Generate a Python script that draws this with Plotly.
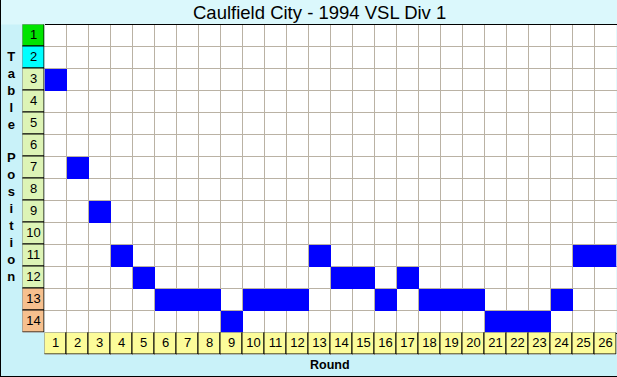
import plotly.graph_objects as go

# ---- data ----
title_text = "Caulfield City - 1994 VSL Div 1"
rounds = list(range(1, 27))
table_positions = list(range(1, 15))
position_by_round = [3, 7, 9, 11, 12, 13, 13, 13, 14, 13, 13, 13, 11,
                     12, 12, 13, 12, 13, 13, 13, 14, 14, 14, 13, 11, 11]
x_label = "Round"
y_label = "Table Position"

# ---- styles ----
W, H = 617, 377
BG = "#c9f2f9"
TITLE_BG = "#dbf8fc"
GRID = "#bab2a4"
BLUE = "#0000ff"
YELLOW = "#fcfc9a"
FONT = "Liberation Sans, Arial"
pos_colors = (["#00e400", "#00ffff"] + ["#ddf4b6"] * 10 + ["#f6c08e"] * 2)

def px_x(p):
    return p / W

def px_y(p):
    return (H - p) / H

grid_left, label_left, grid_right = 44.5, 22.5, 616.5
grid_top, grid_bottom, round_bottom = 24.5, 332.5, 354.5

fig = go.Figure()

# blue cells: the position held after each round
z = [[1 if position_by_round[c] == r else None for c in range(len(rounds))]
     for r in table_positions]
fig.add_trace(go.Heatmap(
    x=rounds, y=table_positions, z=z,
    colorscale=[[0, BLUE], [1, BLUE]], showscale=False,
    hoverinfo="skip", xaxis="x", yaxis="y"))

# left column: table position labels
fig.add_trace(go.Bar(
    x=[0] * len(table_positions), y=[1] * len(table_positions),
    base=[p - 0.5 for p in table_positions], width=1,
    marker=dict(color=pos_colors, line=dict(color="black", width=1)),
    hoverinfo="skip", xaxis="x2", yaxis="y", showlegend=False))
fig.add_trace(go.Scatter(
    x=[0] * len(table_positions), y=table_positions, mode="text",
    text=[str(p) for p in table_positions],
    textfont=dict(family=FONT, size=13, color="black"),
    hoverinfo="skip", xaxis="x2", yaxis="y", showlegend=False,
    cliponaxis=False))

# bottom row: round labels
fig.add_trace(go.Bar(
    x=rounds, y=[1] * len(rounds), base=[0] * len(rounds), width=1,
    marker=dict(color=YELLOW, line=dict(color="black", width=1)),
    hoverinfo="skip", xaxis="x", yaxis="y2", showlegend=False))
fig.add_trace(go.Scatter(
    x=rounds, y=[0.5] * len(rounds), mode="text",
    text=[str(r) for r in rounds],
    textfont=dict(family=FONT, size=13, color="black"),
    hoverinfo="skip", xaxis="x", yaxis="y2", showlegend=False,
    cliponaxis=False))

half_x = [r - 0.5 for r in rounds] + [rounds[-1] + 0.5]
half_y = [p - 0.5 for p in table_positions] + [table_positions[-1] + 0.5]

fig.update_layout(
    width=W, height=H,
    margin=dict(l=0, r=0, t=0, b=0),
    paper_bgcolor=BG, plot_bgcolor="white",
    showlegend=False,
    bargap=0,
    xaxis=dict(domain=[px_x(grid_left), px_x(grid_right)], anchor="y",
               range=[0.5, 26.5], tickvals=half_x, showticklabels=False,
               ticks="", showgrid=True, gridcolor=GRID, gridwidth=1,
               zeroline=False, showline=True, mirror=True,
               linecolor="black", linewidth=1, fixedrange=True),
    yaxis=dict(domain=[px_y(grid_bottom), px_y(grid_top)], anchor="x",
               range=[14.5, 0.5], tickvals=half_y, showticklabels=False,
               ticks="", showgrid=True, gridcolor=GRID, gridwidth=1,
               zeroline=False, showline=False, fixedrange=True),
    xaxis2=dict(domain=[px_x(label_left), px_x(grid_left)], anchor="y",
                range=[-0.5, 0.5], showticklabels=False, showgrid=False,
                zeroline=False, ticks="", fixedrange=True),
    yaxis2=dict(domain=[px_y(round_bottom), px_y(grid_bottom)], anchor="x",
                range=[0, 1], showticklabels=False, showgrid=False,
                zeroline=False, ticks="", fixedrange=True),
    shapes=[
        dict(type="rect", xref="paper", yref="paper", x0=0, x1=1,
             y0=px_y(grid_top), y1=1, fillcolor=TITLE_BG,
             line=dict(width=0), layer="below"),
        dict(type="line", xref="paper", yref="paper", x0=px_x(0.5),
             x1=px_x(0.5), y0=0, y1=1, line=dict(color="black", width=1)),
        dict(type="line", xref="paper", yref="paper", x0=0, x1=1,
             y0=px_y(376.5), y1=px_y(376.5),
             line=dict(color="black", width=1)),
    ],
    annotations=[
        dict(text=title_text, xref="paper", yref="paper",
             x=px_x(319), y=px_y(12.5), xanchor="center", yanchor="middle",
             showarrow=False,
             font=dict(family=FONT, size=18.5, color="black")),
        dict(text="<b>" + x_label + "</b>", xref="paper", yref="paper",
             x=px_x(330), y=px_y(365), xanchor="center", yanchor="middle",
             showarrow=False,
             font=dict(family=FONT, size=12.5, color="black")),
        dict(text="<br>".join("<b>" + ch + "</b>" if ch != " " else " "
                              for ch in y_label),
             xref="paper", yref="paper",
             x=px_x(11), y=px_y(166), xanchor="center", yanchor="middle",
             showarrow=False, align="center",
             font=dict(family=FONT, size=13, color="black")),
    ],
)

fig.write_html(
    "out.html",
    config={"displayModeBar": False},
    post_script="document.body.style.margin='0';"
                "document.body.style.overflow='hidden';",
)
